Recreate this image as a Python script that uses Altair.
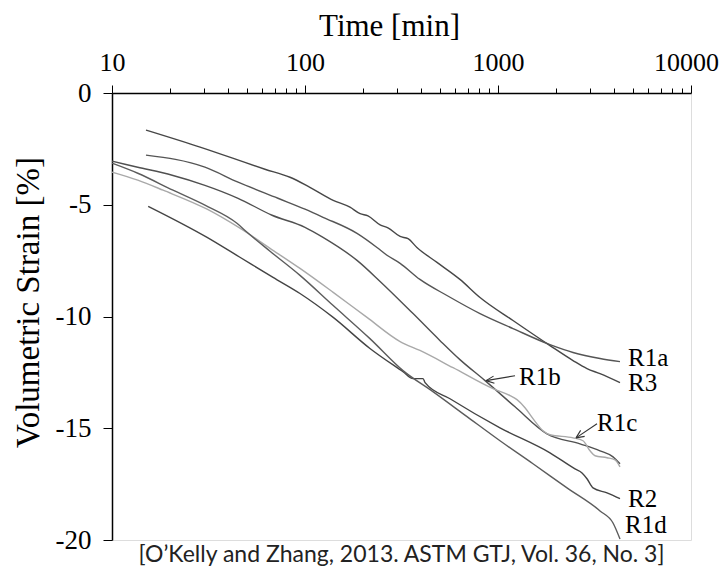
import altair as alt
import pandas as pd

# ---- data (time in min, volumetric strain in %) ----
r3_t = [15, 28.6, 62, 83.6, 106, 140, 171, 193, 212, 245, 269, 311, 342, 380, 483, 635, 807, 1196, 1859, 2447, 2891, 3377, 4287]
r3_s = [-1.66, -2.42, -3.41, -3.77, -4.22, -4.80, -5.11, -5.40, -5.50, -5.90, -6.03, -6.42, -6.52, -6.91, -7.58, -8.34, -9.15, -10.18, -11.30, -11.97, -12.33, -12.56, -12.96]

r1a_t = [15, 30.3, 45, 72.4, 100, 124, 186, 236, 266, 311, 394, 544, 807, 1196, 1859, 2447, 3377, 4287]
r1a_s = [-2.78, -3.32, -3.99, -4.71, -5.20, -5.56, -6.28, -6.91, -7.26, -7.62, -8.34, -9.06, -9.87, -10.54, -11.26, -11.61, -11.88, -12.02]

r1b_t = [10, 13.6, 20.5, 30.3, 45, 67.5, 100, 124, 186, 245, 363, 501, 635, 857, 1225, 1794, 2660, 3377, 3944, 4287]
r1b_s = [-3.05, -3.32, -3.68, -4.13, -4.71, -5.47, -6.01, -6.46, -7.49, -8.43, -9.87, -11.08, -11.93, -12.87, -14.04, -15.25, -15.70, -16.01, -16.28, -16.59]

r1c_t = [10, 13.6, 18.4, 31.1, 46, 65.9, 94.2, 140, 209.5, 311, 394, 585, 942, 1154, 1254, 1380, 1518, 1711, 1859, 2447, 2757, 2998, 3183, 3671, 4039, 4287]
r1c_s = [-3.54, -3.90, -4.35, -5.20, -6.05, -6.95, -7.85, -8.92, -10.04, -11.12, -11.52, -12.29, -13.23, -13.54, -13.72, -14.08, -14.57, -15.11, -15.29, -15.43, -15.56, -16.01, -16.23, -16.32, -16.41, -16.73]

r2_t = [15.4, 31.1, 46, 68.3, 94.2, 140, 217, 322, 363, 409, 419, 564, 1024, 1859, 2506, 2725, 2891, 3107, 3671, 4287]
r2_s = [-5.07, -6.46, -7.35, -8.25, -8.97, -10.04, -11.43, -12.47, -12.78, -12.78, -12.96, -13.68, -14.98, -16.10, -16.82, -17.00, -17.26, -17.67, -17.89, -18.15]

r1d_t = [10, 13.6, 20.7, 30.3, 44.4, 50.1, 65.9, 94.2, 140, 217, 322, 460, 691, 1024, 1518, 2278, 3377, 3944, 4287]
r1d_s = [-3.14, -3.59, -4.35, -5.02, -5.83, -6.23, -7.08, -8.16, -9.51, -10.99, -12.42, -13.36, -14.48, -15.56, -16.59, -17.67, -18.70, -19.24, -19.96]

series = ["R3", "R1a", "R1b", "R1c", "R2", "R1d"]
colors = ["#474747", "#555555", "#505050", "#a9a9a9", "#444444", "#5c5c5c"]

label_text = ["R1a", "R3", "R1b", "R1c", "R2", "R1d"]
label_t = [4716, 4716, 1285, 3258, 4716, 4550]
label_s = [-11.84, -12.96, -12.69, -14.75, -18.16, -19.33]

arrow_id = ["R1b", "R1b", "R1c", "R1c"]
arrow_t = [1225, 867, 3258, 2536]
arrow_s = [-12.65, -12.87, -14.80, -15.43]
head_t = [867, 2536]
head_s = [-12.87, -15.43]
head_ang = [353, 326]

major_ticks = [10, 100, 1000, 10000]
minor_ticks = [m * 10 ** k for k in (1, 2, 3) for m in range(2, 10)]
x_ticks = sorted(major_ticks + minor_ticks)
y_ticks = [0, -5, -10, -15, -20]

caption = "[O\u2019Kelly and Zhang, 2013. ASTM GTJ, Vol. 36, No. 3]"

# ---- tables ----
rows = []
for name, ts, ss in [("R3", r3_t, r3_s), ("R1a", r1a_t, r1a_s), ("R1b", r1b_t, r1b_s),
                     ("R1c", r1c_t, r1c_s), ("R2", r2_t, r2_s), ("R1d", r1d_t, r1d_s)]:
    for i, (t, s) in enumerate(zip(ts, ss)):
        rows.append({"series": name, "t": t, "s": s, "i": i})
df = pd.DataFrame(rows)
labels = pd.DataFrame({"label": label_text, "t": label_t, "s": label_s})
arrows = pd.DataFrame({"id": arrow_id, "t": arrow_t, "s": arrow_s, "i": [0, 1, 0, 1]})
heads = pd.DataFrame({"t": head_t, "s": head_s, "ang": head_ang})

SERIF = "Liberation Serif"
MAJOR_TEST = "indexof([10,100,1000,10000], datum.value) >= 0"

xscale = alt.Scale(type="log", domain=[10, 10000], nice=False)
yscale = alt.Scale(domain=[-20, 0], nice=False, zero=False)

xaxis = alt.Axis(
    orient="top", values=x_ticks, grid=False,
    labelExpr=MAJOR_TEST + " ? datum.label : ''",
    labelOverlap=False, labelBound=False, labelFlush=False,
    labelFont=SERIF, labelFontSize=26, labelColor="black", labelPadding=10,
    labelOffset={"condition": {"test": "datum.value == 10000", "value": -5}, "value": 0},
    tickColor="black", tickWidth=1,
    tickSize={"condition": {"test": MAJOR_TEST, "value": 8}, "value": 5},
    domainColor="black", domainWidth=1.5,
    title="Time [min]", titleFont=SERIF, titleFontSize=31, titleFontWeight="normal",
    titleColor="black", titleX=277, titleY=-67, titleBaseline="middle", titleAlign="center",
    format="d",
)
yaxis = alt.Axis(
    orient="left", values=y_ticks, grid=False,
    labelExpr="datum.value == 0 ? '0' : '-' + toString(abs(datum.value))",
    labelFont=SERIF, labelFontSize=27, labelColor="black", labelPadding=12,
    tickColor="black", tickWidth=1, tickSize=9,
    domainColor="black", domainWidth=1.5,
    title="Volumetric Strain [%]", titleFont=SERIF, titleFontSize=33, titleFontWeight="normal",
    titleColor="black", titleX=-84, titleY=209, titleBaseline="middle", titleAlign="center",
    titleAngle=270,
)

lines = alt.Chart(df).mark_line(strokeWidth=1.4, interpolate="monotone").encode(
    x=alt.X("t:Q", scale=xscale, axis=xaxis),
    y=alt.Y("s:Q", scale=yscale, axis=yaxis),
    color=alt.Color("series:N", scale=alt.Scale(domain=series, range=colors), legend=None),
    order="i:Q",
)

text = alt.Chart(labels).mark_text(font=SERIF, fontSize=25, align="left", baseline="middle", color="black").encode(
    x="t:Q", y="s:Q", text="label:N"
)

shafts = alt.Chart(arrows).mark_line(color="#333333", strokeWidth=1.1).encode(
    x="t:Q", y="s:Q", detail="id:N", order="i:Q"
)

arrowheads = alt.Chart(heads).mark_point(
    shape="M0,0L1,-0.45M0,0L1,0.45", filled=False, size=256, color="#333333", strokeWidth=1.1, opacity=1
).encode(x="t:Q", y="s:Q", angle=alt.Angle("ang:Q", scale=None))

chart = alt.layer(lines, shafts, arrowheads, text).properties(
    width=579, height=447,
    autosize=alt.AutoSizeParams(type="none"),
    padding={"left": 104, "top": 85, "right": 29, "bottom": 29},
    title=alt.TitleParams(text=caption, orient="bottom", font="Lato", fontSize=23, fontWeight="normal",
                          color="#222222", offset=-9, anchor="middle"),
).configure_view(stroke="#8a8a8a", strokeWidth=1.2).configure(background="white")

chart.save("out.html", embed_options={"renderer": "svg", "actions": False})
